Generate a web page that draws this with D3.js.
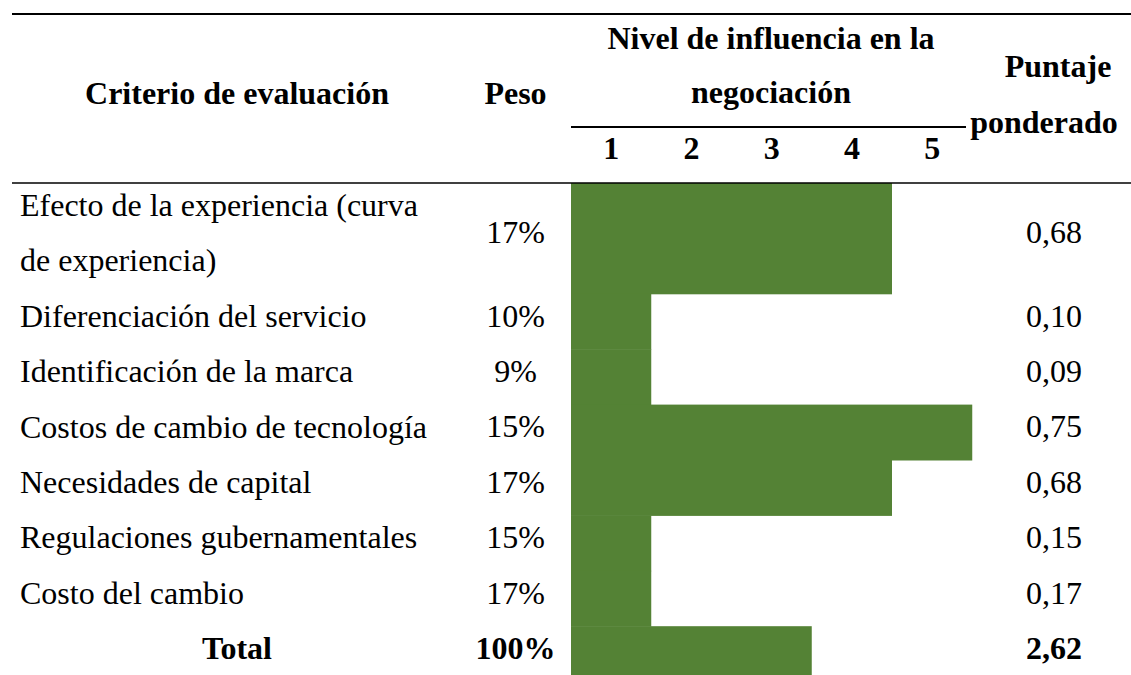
<!DOCTYPE html>
<html>
<head>
<meta charset="utf-8">
<script src="https://cdn.jsdelivr.net/npm/d3@7"></script>
<style>
  body { margin: 0; background: #fff; }
</style>
</head>
<body>
<script>
// table data
var criterios = [
    ["Efecto de la experiencia (curva", "de experiencia)"],
    ["Diferenciación del servicio"],
    ["Identificación de la marca"],
    ["Costos de cambio de tecnología"],
    ["Necesidades de capital"],
    ["Regulaciones gubernamentales"],
    ["Costo del cambio"]
];
var pesos = [0.17, 0.10, 0.09, 0.15, 0.17, 0.15, 0.17];
var niveles = [4, 1, 1, 5, 4, 1, 1];
var totalNivel = 3;
var escala = [1, 2, 3, 4, 5];

var width = 1131, height = 675;
var green = "#548235";
var fontSize = "32px";

var svg = d3.select("body").append("svg")
    .attr("width", width)
    .attr("height", height)
    .style("font-family", "'Liberation Serif', 'Times New Roman', Times, serif");

// rows: first one takes two line units
var rows = criterios.map(function (c, i) {
    return {label: c, peso: pesos[i], nivel: niveles[i], units: c.length, total: false};
});
var totalPeso = d3.sum(pesos);
var totalPuntaje = d3.sum(rows, function (d) { return d.peso * d.nivel; });
rows.push({label: ["Total"], peso: totalPeso, nivel: totalNivel, units: 1, total: true, puntaje: totalPuntaje});

var acc = 0;
rows.forEach(function (d) {
    d.start = acc;
    acc += d.units;
    d.end = acc;
    if (!d.total) d.puntaje = d.peso * d.nivel;
});

var headerBottom = 183;
var y = d3.scaleLinear().domain([0, 1]).range([headerBottom, headerBottom + 55.4]);
var x = d3.scaleBand().domain(escala).range([571, 972.25]);

var fmtPct = d3.format(".0%");
function fmtDec(v) { return d3.format(".2f")(v).replace(".", ","); }

// bars
svg.append("g").selectAll("rect")
    .data(rows)
    .enter().append("rect")
    .attr("x", x(1))
    .attr("y", function (d) { return y(d.start); })
    .attr("width", function (d) { return x(d.nivel) + x.bandwidth() - x(1); })
    .attr("height", function (d) { return y(d.end) - y(d.start) + 0.5; })
    .style("fill", green);

// header lines
svg.append("line")
    .attr("x1", 12).attr("x2", width)
    .attr("y1", 14).attr("y2", 14)
    .style("stroke", "black").style("stroke-width", 2);
svg.append("line")
    .attr("x1", 12).attr("x2", width)
    .attr("y1", headerBottom).attr("y2", headerBottom)
    .style("stroke", "black").style("stroke-width", 1.5);
svg.append("line")
    .attr("x1", x(1)).attr("x2", 966)
    .attr("y1", 127).attr("y2", 127)
    .style("stroke", "black").style("stroke-width", 1.8);

// header text
var head = svg.append("g")
    .style("font-weight", "bold")
    .style("font-size", fontSize)
    .style("text-anchor", "middle");
head.append("text").attr("x", 237).attr("y", 104).text("Criterio de evaluación");
head.append("text").attr("x", 515.5).attr("y", 104).text("Peso");
head.append("text").attr("x", 771).attr("y", 49).text("Nivel de influencia en la");
head.append("text").attr("x", 771).attr("y", 103).text("negociación");
head.append("text").attr("x", 1058).attr("y", 77).text("Puntaje");
head.append("text").attr("x", 1044).attr("y", 133).text("ponderado");
head.selectAll("text.lvl")
    .data(escala)
    .enter().append("text")
    .attr("class", "lvl")
    .attr("x", function (d) { return x(d) + x.bandwidth() / 2; })
    .attr("y", 159)
    .text(function (d) { return d; });

// body rows
var rowG = svg.append("g").selectAll("g.row")
    .data(rows)
    .enter().append("g")
    .attr("class", "row")
    .style("font-size", fontSize)
    .style("font-weight", function (d) { return d.total ? "bold" : "normal"; });

rowG.each(function (d) {
    var g = d3.select(this);
    var mid = (y(d.start) + y(d.end)) / 2;
    d.label.forEach(function (t, j) {
        g.append("text")
            .attr("x", d.total ? 237 : 20)
            .attr("y", y(d.start + j) + 33)
            .style("text-anchor", d.total ? "middle" : "start")
            .text(t);
    });
    g.append("text")
        .attr("x", 515.5).attr("y", mid + 5)
        .style("text-anchor", "middle")
        .text(fmtPct(d.peso));
    g.append("text")
        .attr("x", 1054).attr("y", mid + 5)
        .style("text-anchor", "middle")
        .text(fmtDec(d.puntaje));
});
</script>
</body>
</html>
